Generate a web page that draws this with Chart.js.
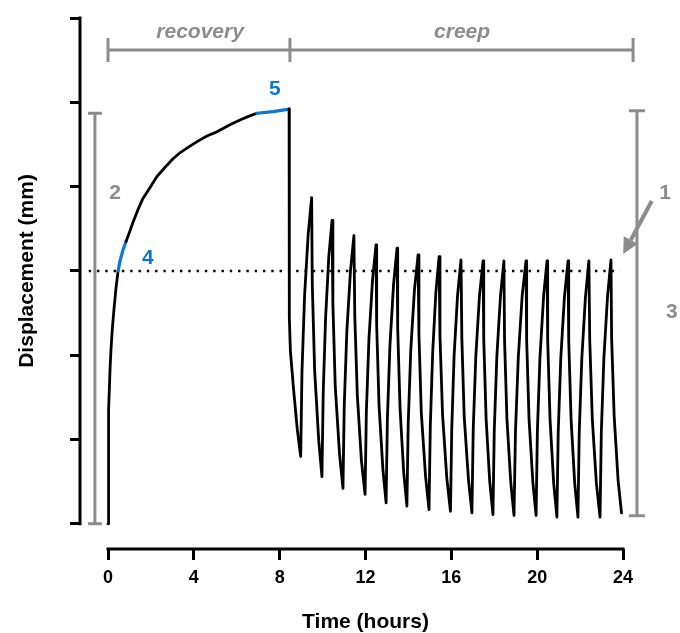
<!DOCTYPE html>
<html>
<head>
<meta charset="utf-8">
<title>Displacement - recovery and creep</title>
<script src="https://cdn.jsdelivr.net/npm/chart.js@4.4.0/dist/chart.umd.min.js"></script>
<style>
    body { margin: 0; background: #fff; }
    #wrap { width: 680px; height: 633px; }
</style>
</head>
<body>
<div id="wrap"><canvas id="displacementChart" width="680" height="633"></canvas></div>
<script>
// Data (time in hours, displacement in mm)
const recoveryTime = [0, 0.01, 0.025, 0.045, 0.07, 0.10, 0.14, 0.20, 0.28, 0.37, 0.47, 0.56, 0.70, 0.84, 1.00, 1.17, 1.40, 1.63,
    1.96, 2.28, 2.66, 3.03, 3.40, 3.82, 4.19, 4.61, 4.99, 5.36, 5.73, 6.15, 6.52, 6.94, 7.69, 8.44];
const recoveryDisp = [0, 0.45, 0.95, 1.35, 1.65, 1.87, 2.07, 2.31, 2.55, 2.79, 3.00, 3.12, 3.25, 3.35, 3.46, 3.58, 3.73, 3.86,
    3.99, 4.12, 4.23, 4.33, 4.41, 4.48, 4.54, 4.60, 4.64, 4.69, 4.74, 4.79, 4.83, 4.87, 4.89, 4.92];

// Creep phase: drop after unloading, then load/unload cycles
const creepTime = [
    8.45, 8.50, 8.64, 8.82, 8.98,
    9.04, 9.16, 9.33, 9.49, 9.52, 9.63, 9.82, 9.97,
    10.03, 10.14, 10.29, 10.44, 10.48, 10.59, 10.79, 10.95,
    11.01, 11.13, 11.30, 11.46, 11.50, 11.62, 11.81, 11.98,
    12.04, 12.16, 12.33, 12.49, 12.52, 12.63, 12.81, 12.96,
    13.02, 13.14, 13.31, 13.47, 13.50, 13.61, 13.78, 13.93,
    13.99, 14.11, 14.28, 14.45, 14.49, 14.60, 14.80, 14.96,
    15.02, 15.13, 15.28, 15.43, 15.47, 15.59, 15.79, 15.96,
    16.02, 16.13, 16.29, 16.45, 16.49, 16.60, 16.80, 16.96,
    17.02, 17.14, 17.31, 17.48, 17.51, 17.62, 17.79, 17.94,
    18.00, 18.12, 18.29, 18.45, 18.48, 18.59, 18.77, 18.92,
    18.99, 19.12, 19.30, 19.48, 19.51, 19.62, 19.80, 19.95,
    20.01, 20.13, 20.30, 20.46, 20.49, 20.60, 20.77, 20.92,
    20.98, 21.10, 21.27, 21.44, 21.47, 21.58, 21.75, 21.90,
    21.96, 22.08, 22.25, 22.41, 22.45, 22.57, 22.76, 22.93,
    22.99, 23.11, 23.28, 23.44, 23.47, 23.59, 23.77, 23.93
];
const creepDisp = [
    2.45, 2.05, 1.62, 1.12, 0.80,
    1.81, 2.70, 3.44, 3.87, 2.84, 1.82, 0.99, 0.56,
    1.56, 2.44, 3.17, 3.60, 2.61, 1.63, 0.83, 0.42,
    1.41, 2.28, 3.00, 3.42, 2.47, 1.52, 0.75, 0.35,
    1.33, 2.19, 2.90, 3.31, 2.36, 1.41, 0.65, 0.25,
    1.25, 2.12, 2.85, 3.27, 2.32, 1.37, 0.61, 0.21,
    1.19, 2.06, 2.77, 3.19, 2.25, 1.32, 0.56, 0.17,
    1.16, 2.03, 2.75, 3.17, 2.23, 1.30, 0.54, 0.15,
    1.13, 2.00, 2.71, 3.13, 2.20, 1.27, 0.52, 0.13,
    1.12, 1.98, 2.70, 3.12, 2.19, 1.25, 0.50, 0.11,
    1.10, 1.98, 2.70, 3.12, 2.18, 1.25, 0.49, 0.10,
    1.10, 1.97, 2.70, 3.12, 2.18, 1.25, 0.49, 0.10,
    1.10, 1.97, 2.70, 3.12, 2.18, 1.24, 0.48, 0.08,
    1.08, 1.96, 2.69, 3.12, 2.18, 1.24, 0.48, 0.08,
    1.08, 1.96, 2.69, 3.12, 2.18, 1.24, 0.48, 0.08,
    1.09, 1.97, 2.70, 3.13, 2.20, 1.27, 0.52, 0.13
];

// Highlighted (blue) stretches of the recovery curve, in hours
const markerRange4 = [0.47, 0.84];
const markerRange5 = [6.94, 8.44];

// Dotted reference level
const thresholdTime = [-0.9, 23.86];
const thresholdDisp = [3, 3];

// Axis ticks
const xTicks = [0, 4, 8, 12, 16, 20, 24];
const yTicks = [0, 1, 2, 3, 4, 5, 6];

const BLACK = '#000000';
const GRAY = '#8c8c8c';
const BLUE = '#0a78d2';
const FONT = "'Liberation Sans', Arial, sans-serif";

function zip(xs, ys) {
    return xs.map((v, i) => ({ x: v, y: ys[i] }));
}

function inRange(a, b, range) {
    return a >= range[0] - 1e-6 && b <= range[1] + 1e-6;
}

function isMarked(c) {
    const a = c.p0.parsed.x, b = c.p1.parsed.x;
    return inRange(a, b, markerRange4) || inRange(a, b, markerRange5);
}

const curveData = zip(recoveryTime, recoveryDisp).concat(zip(creepTime, creepDisp));

// Axis lines, titles and the grey/blue annotations
const figureMarks = {
    id: 'figureMarks',
    afterDraw(chart) {
        const ctx = chart.ctx;
        const xs = chart.scales.x;
        const ys = chart.scales.y;
        const px = v => xs.getPixelForValue(v);
        const py = v => ys.getPixelForValue(v);

        ctx.save();

        // axis lines (only over the tick range)
        ctx.strokeStyle = BLACK;
        ctx.lineWidth = 3;
        ctx.lineCap = 'butt';
        ctx.beginPath();
        ctx.moveTo(ys.right, py(6) - 1.5);
        ctx.lineTo(ys.right, py(0) + 1.5);
        ctx.moveTo(px(0) - 1.5, xs.top);
        ctx.lineTo(px(24) + 1.5, xs.top);
        ctx.stroke();

        // axis titles
        ctx.fillStyle = BLACK;
        ctx.font = 'bold 21px ' + FONT;
        ctx.textAlign = 'center';
        ctx.textBaseline = 'middle';
        ctx.fillText('Time (hours)', px(12), 622);
        ctx.save();
        ctx.translate(27, py(3));
        ctx.rotate(-Math.PI / 2);
        ctx.fillText('Displacement (mm)', 0, 0);
        ctx.restore();

        // recovery / creep bracket
        ctx.strokeStyle = GRAY;
        ctx.lineWidth = 3;
        const by = py(5.62);
        ctx.beginPath();
        ctx.moveTo(px(0), by);
        ctx.lineTo(px(24.47), by);
        [0, 8.48, 24.47].forEach(t => {
            ctx.moveTo(px(t), by - 12);
            ctx.lineTo(px(t), by + 12);
        });
        // bar 2
        const b2 = px(-0.61);
        ctx.moveTo(b2, py(4.87));
        ctx.lineTo(b2, py(0));
        ctx.moveTo(b2 - 7, py(4.87));
        ctx.lineTo(b2 + 7, py(4.87));
        ctx.moveTo(b2 - 7, py(0));
        ctx.lineTo(b2 + 7, py(0));
        // bar 3
        const b3 = px(24.65);
        ctx.moveTo(b3, py(4.9));
        ctx.lineTo(b3, py(0.095));
        ctx.moveTo(b3 - 8, py(4.9));
        ctx.lineTo(b3 + 8, py(4.9));
        ctx.moveTo(b3 - 8, py(0.095));
        ctx.lineTo(b3 + 8, py(0.095));
        ctx.stroke();

        // arrow 1
        const ax0 = px(25.34), ay0 = py(3.83);
        const ax1 = px(24.01), ay1 = py(3.20);
        const ang = Math.atan2(ay1 - ay0, ax1 - ax0);
        const headLen = 16, headHalf = 8;
        const hx = ax1 - headLen * Math.cos(ang);
        const hy = ay1 - headLen * Math.sin(ang);
        ctx.lineWidth = 4;
        ctx.beginPath();
        ctx.moveTo(ax0, ay0);
        ctx.lineTo(hx, hy);
        ctx.stroke();
        ctx.fillStyle = GRAY;
        ctx.beginPath();
        ctx.moveTo(ax1, ay1);
        ctx.lineTo(hx + headHalf * Math.sin(ang), hy - headHalf * Math.cos(ang));
        ctx.lineTo(hx - headHalf * Math.sin(ang), hy + headHalf * Math.cos(ang));
        ctx.closePath();
        ctx.fill();

        // grey labels
        ctx.font = 'italic bold 21px ' + FONT;
        ctx.fillText('recovery', px(4.29), py(5.83));
        ctx.fillText('creep', px(16.5), py(5.83));
        ctx.font = 'bold 21px ' + FONT;
        ctx.fillText('1', px(25.96), py(3.92));
        ctx.fillText('2', px(0.33), py(3.92));
        ctx.fillText('3', px(26.28), py(2.51));

        // blue labels
        ctx.fillStyle = BLUE;
        ctx.fillText('4', px(1.86), py(3.15));
        ctx.fillText('5', px(7.78), py(5.15));

        ctx.restore();
    }
};

function initializeChart() {
    const ctx = document.getElementById('displacementChart').getContext('2d');
    new Chart(ctx, {
        type: 'line',
        data: {
            datasets: [{
                label: 'Displacement',
                data: curveData,
                borderColor: BLACK,
                borderWidth: 2.8,
                borderJoinStyle: 'round',
                borderCapStyle: 'round',
                pointRadius: 0,
                tension: 0,
                segment: {
                    borderColor: c => isMarked(c) ? BLUE : BLACK,
                    borderWidth: c => isMarked(c) ? 3.2 : 2.8
                }
            }, {
                label: 'Reference level',
                data: zip(thresholdTime, thresholdDisp),
                borderColor: BLACK,
                borderWidth: 2.4,
                borderDash: [2.4, 5.9],
                pointRadius: 0
            }]
        },
        options: {
            responsive: false,
            animation: false,
            devicePixelRatio: 1,
            layout: { padding: { left: 0, right: 57, top: 18, bottom: 0 } },
            plugins: {
                legend: { display: false },
                tooltip: { enabled: false }
            },
            scales: {
                x: {
                    type: 'linear',
                    min: -1.305,
                    max: 24,
                    afterBuildTicks: scale => { scale.ticks = xTicks.map(v => ({ value: v })); },
                    afterFit: scale => { scale.height = 84; },
                    border: { display: false },
                    grid: { drawOnChartArea: false, drawTicks: true, tickLength: 11, lineWidth: 3, color: BLACK },
                    ticks: {
                        color: BLACK,
                        padding: 7,
                        maxRotation: 0,
                        font: { family: FONT, size: 18, weight: 'bold' }
                    }
                },
                y: {
                    type: 'linear',
                    min: -0.298,
                    max: 6,
                    afterBuildTicks: scale => { scale.ticks = yTicks.map(v => ({ value: v })); },
                    afterFit: scale => { scale.width = 80; },
                    border: { display: false },
                    grid: { drawOnChartArea: false, drawTicks: true, tickLength: 10, lineWidth: 3, color: BLACK },
                    ticks: { display: false }
                }
            }
        },
        plugins: [figureMarks]
    });
}

document.addEventListener('DOMContentLoaded', initializeChart);
</script>
</body>
</html>
